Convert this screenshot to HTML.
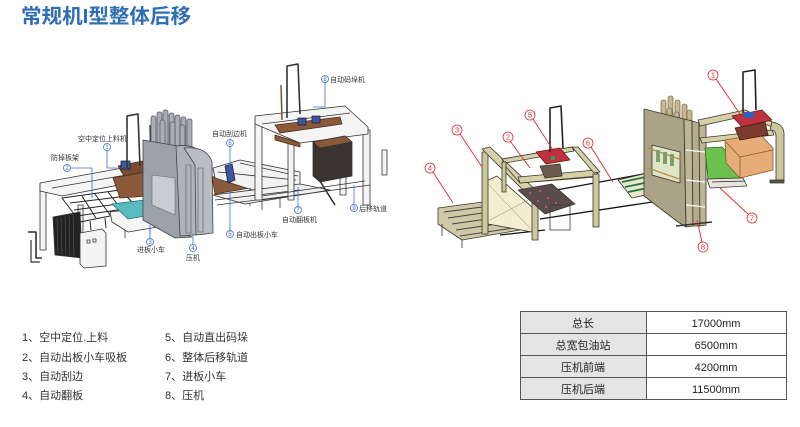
<!DOCTYPE html>
<html><head><meta charset="utf-8"><style>
html,body{margin:0;padding:0;background:#fff;}
body{width:800px;height:427px;overflow:hidden;position:relative;font-family:"Liberation Sans","Noto Sans CJK SC",sans-serif;}
svg{position:absolute;left:0;top:0;}
.lbl{font-family:"Liberation Sans","Noto Sans CJK SC",sans-serif;font-size:7px;fill:#333;}
.num{font-family:"Liberation Sans",sans-serif;font-size:6px;text-anchor:middle;}
.list{font-family:"Liberation Sans","Noto Sans CJK SC",sans-serif;font-size:11px;fill:#333;}
.tb{font-family:"Liberation Sans","Noto Sans CJK SC",sans-serif;font-size:11px;fill:#222;text-anchor:middle;}
</style></head><body>
<svg width="800" height="427" viewBox="0 0 800 427" xmlns="http://www.w3.org/2000/svg">
<!-- Title -->
<text x="21" y="23" textLength="170" lengthAdjust="spacingAndGlyphs" style="font-family:'Liberation Sans','Noto Sans CJK SC',sans-serif;font-size:20px;font-weight:bold;fill:#2f6db4;">常规机I型整体后移</text>

<!-- ============ LEFT DIAGRAM ============ -->
<g stroke="#333" stroke-width="0.8" stroke-linejoin="round">
 <!-- left gantry posts -->
 <rect x="40" y="185" width="6" height="65" fill="#f4f4f4"/>
 <rect x="78" y="205" width="5" height="48" fill="#f4f4f4"/>
 <polyline points="28,232 36,232 36,258 42,258" fill="none" stroke-width="1.6"/>
 <polyline points="31,240 31,262 40,262" fill="none" stroke-width="1.2"/>
 <!-- top white frame -->
 <polygon points="40,183 150,163 165,168 165,176 62,196 40,191" fill="#f5f5f5"/>
 <line x1="52" y1="188" x2="160" y2="169"/>
 <!-- black cabinet -->
 <polygon points="53,217 80,212 82,258 55,255" fill="#222"/>
 <g stroke="#666" stroke-width="0.5"><line x1="57" y1="218" x2="58" y2="254"/><line x1="61" y1="217" x2="62" y2="255"/><line x1="65" y1="216" x2="66" y2="255"/><line x1="69" y1="215" x2="70" y2="256"/><line x1="73" y1="214" x2="74" y2="256"/></g>
 <!-- white cabinet -->
 <polygon points="80,233 102,229 106,233 106,266 84,268 80,264" fill="#f3f3f3"/>
 <rect x="87" y="240" width="3" height="3" fill="#fff"/>
 <rect x="93" y="239" width="3" height="3" fill="#fff"/>
 <!-- fall-proof grid -->
 <g fill="none" stroke="#222" stroke-width="1">
  <polygon points="62,198 120,190 140,210 80,222"/>
  <line x1="70" y1="203" x2="127" y2="196"/><line x1="74" y1="210" x2="133" y2="202"/><line x1="77" y1="216" x2="137" y2="207"/>
  <line x1="82" y1="196" x2="96" y2="218"/><line x1="95" y1="194" x2="110" y2="215"/><line x1="108" y1="192" x2="124" y2="213"/>
  <line x1="90" y1="221" x2="91" y2="230"/><line x1="105" y1="218" x2="106" y2="228"/>
 </g>
 <!-- tray below teal -->
 <polygon points="110,212 168,205 180,217 176,224 128,232 112,222" fill="#f6f6f6"/>
 <line x1="125" y1="230" x2="125" y2="238"/><line x1="150" y1="227" x2="150" y2="234"/><line x1="172" y1="222" x2="172" y2="230"/>
 <!-- teal plate -->
 <polygon points="112,204 161,198 174,211 128,219" fill="#58bcc0" stroke="#2e6f73"/>
 <!-- brown loader -->
 <polygon points="113,178 152,170 160,180 148,196 120,198" fill="#8a5a3a" stroke="#4a2e1e"/>
 <polygon points="118,166 148,160 155,170 124,176" fill="#7a4c30" stroke="#4a2e1e"/>
 <rect x="121" y="161" width="9" height="8" fill="#3d56a0" stroke="#223"/>
 <!-- tall loader frame -->
 <polyline points="127,168 127,116 138,114 140,166" fill="none" stroke-width="1.6"/>
 <line x1="150" y1="125" x2="151" y2="170" stroke-width="1.4"/>
 <!-- press cylinders -->
 <g fill="#a9aeb6" stroke="#555" stroke-width="0.7">
  <rect x="151" y="116" width="5" height="34" rx="2"/>
  <rect x="157" y="112" width="5" height="40" rx="2"/>
  <rect x="163" y="110" width="5" height="40" rx="2"/>
  <rect x="169" y="113" width="5" height="38" rx="2"/>
  <rect x="175" y="115" width="5" height="36" rx="2"/>
  <rect x="181" y="117" width="5" height="35" rx="2"/>
  <rect x="187" y="119" width="5" height="33" rx="2"/>
  <rect x="160" y="120" width="5" height="38" rx="2"/>
  <rect x="170" y="122" width="5" height="36" rx="2"/>
  <rect x="180" y="125" width="5" height="33" rx="2"/>
 </g>
 <!-- press body -->
 <polygon points="143,140 178,146 180,232 192,237 175,238 143,220" fill="#9ca2aa" stroke="#444"/>
 <path d="M176,146 Q200,143 205,160 L206,234 L180,236 Z" fill="#aeb3bb" stroke="#444"/>
 <path d="M184,148 Q207,146 212,162 L213,233 L196,235 L195,165 Z" fill="#b8bdc4" stroke="#444"/>
 <rect x="186" y="165" width="5" height="68" fill="none" stroke="#555" stroke-width="0.6"/>
 <rect x="198" y="168" width="5" height="64" fill="none" stroke="#555" stroke-width="0.6"/>
 <polygon points="152,175 175,178 175,215 152,205" fill="#c9ccd1" stroke="#666" stroke-width="0.6"/>
 <!-- middle section: scraper / out car / flip -->
 <polygon points="212,177 245,173 250,188 215,194" fill="#8a5a3a" stroke="#4a2e1e"/>
 <polygon points="213,168 240,160 300,172 300,186 262,193 215,178" fill="#f2f2f2"/>
 <line x1="218" y1="172" x2="296" y2="180"/><line x1="240" y1="163" x2="298" y2="176"/>
 <polygon points="225,166 232,164 235,180 228,183" fill="#3d56a0" stroke="#223"/>
 <line x1="250" y1="188" x2="250" y2="206"/><line x1="262" y1="192" x2="262" y2="210"/><line x1="280" y1="189" x2="280" y2="208"/>
 <polygon points="213,195 300,184 330,190 245,204" fill="#f0f0f0"/>
 <line x1="215" y1="200" x2="300" y2="190"/><line x1="217" y1="205" x2="305" y2="194"/>
 <!-- right gantry -->
 <rect x="255" y="120" width="7" height="80" fill="#f4f4f4"/>
 <rect x="288" y="135" width="6" height="65" fill="#f4f4f4"/>
 <rect x="363" y="130" width="7" height="75" fill="#f4f4f4"/>
 <rect x="340" y="135" width="6" height="60" fill="#f4f4f4"/>
 <polygon points="255,116 345,106 368,127 368,134 300,143 255,124" fill="#f5f5f5"/>
 <line x1="262" y1="124" x2="350" y2="113"/>
 <polygon points="275,125 340,117 342,124 280,133" fill="#8a5a3a" stroke="#4a2e1e"/>
 <rect x="298" y="118" width="8" height="7" fill="#3d56a0" stroke="#223"/>
 <rect x="312" y="116" width="8" height="7" fill="#3d56a0" stroke="#223"/>
 <polyline points="287,118 287,66 298,64 300,114" fill="none" stroke-width="1.6"/>
 <line x1="281" y1="85" x2="282" y2="120" stroke-width="1.4" stroke="#6b4a30"/>
 <polygon points="275,135 300,143 300,147 275,140" fill="#8a5a3a" stroke="#4a2e1e"/>
 <!-- stack box -->
 <polygon points="313,142 345,136 352,142 352,176 320,182 313,176" fill="#3a3430"/>
 <polygon points="313,142 345,136 352,142 320,148" fill="#8a5a3a"/>
 <line x1="318" y1="178" x2="335" y2="205" stroke-width="1.6"/>
 <rect x="382" y="150" width="5" height="25" fill="#f4f4f4"/>
 <line x1="262" y1="200" x2="370" y2="185"/>
 <line x1="262" y1="196" x2="365" y2="181"/>
</g>

<!-- left labels -->
<g fill="none" stroke="#3b6fc9" stroke-width="0.8">
 <circle cx="325" cy="79" r="3.5"/><polyline points="325,82.5 325,107 313,107"/>
 <circle cx="107" cy="147" r="3.5"/><polyline points="107,150.5 107,168 117,168"/>
 <circle cx="67" cy="168" r="3.5"/><polyline points="70.5,168 92,168 92,198"/>
 <circle cx="230" cy="143" r="3.5"/><polyline points="230,146.5 230,167"/>
 <circle cx="298" cy="210" r="3.5"/><polyline points="298,206.5 298,187"/>
 <circle cx="354" cy="208" r="3.5"/><polyline points="354,204.5 354,185"/>
 <circle cx="230" cy="234" r="3.5"/><polyline points="230,230.5 230,188"/>
 <circle cx="150" cy="242" r="3.5"/><polyline points="150,238.5 150,225"/>
 <circle cx="193" cy="248" r="3.5"/><polyline points="193,244.5 193,235"/>
</g>
<g>
 <text x="325" y="81.2" class="num" fill="#3b6fc9">8</text>
 <text x="107" y="149.2" class="num" fill="#3b6fc9">1</text>
 <text x="67" y="170.2" class="num" fill="#3b6fc9">2</text>
 <text x="230" y="145.2" class="num" fill="#3b6fc9">6</text>
 <text x="298" y="212.2" class="num" fill="#3b6fc9">7</text>
 <text x="354" y="210.2" class="num" fill="#3b6fc9">9</text>
 <text x="230" y="236.2" class="num" fill="#3b6fc9">5</text>
 <text x="150" y="244.2" class="num" fill="#3b6fc9">3</text>
 <text x="193" y="250.2" class="num" fill="#3b6fc9">4</text>
</g>
<text x="330" y="82" class="lbl">自动码垛机</text>
<text x="78" y="141" class="lbl">空中定位上料机</text>
<text x="51" y="160" class="lbl">防掉板架</text>
<text x="212" y="136" class="lbl">自动刮边机</text>
<text x="282" y="222" class="lbl">自动翻板机</text>
<text x="359" y="211" class="lbl">后移轨道</text>
<text x="236" y="237" class="lbl">自动出板小车</text>
<text x="137" y="252" class="lbl">进板小车</text>
<text x="186" y="260" class="lbl">压机</text>

<!-- ============ RIGHT DIAGRAM ============ -->
<g stroke="#3a3628" stroke-width="0.8" stroke-linejoin="round">
 <!-- rails -->
 <line x1="540" y1="193" x2="660" y2="171" stroke="#111" stroke-width="1.3"/>
 <line x1="540" y1="219" x2="672" y2="199" stroke="#111" stroke-width="1.3"/>
 <line x1="500" y1="235" x2="545" y2="230" stroke="#111" stroke-width="1.3"/>
 <!-- conveyor 4 -->
 <polygon points="438,208 498,200 522,215 520,230 462,240 438,224" fill="#cfc9a8"/>
 <g stroke="#444" stroke-width="1"><line x1="444" y1="212" x2="505" y2="204"/><line x1="448" y1="218" x2="510" y2="209"/><line x1="452" y1="224" x2="515" y2="215"/><line x1="456" y1="230" x2="518" y2="221"/><line x1="460" y1="236" x2="520" y2="227"/></g>
 <line x1="442" y1="224" x2="442" y2="236"/><line x1="462" y1="240" x2="462" y2="248"/>
 <!-- front gantry 3 with glazing -->
 <polygon points="484,182 497,176 533,208 532,232 488,224" fill="#f3edd2"/>
 <line x1="488" y1="184" x2="530" y2="228" stroke="#8a845c" stroke-width="0.5"/><line x1="490" y1="220" x2="528" y2="200" stroke="#8a845c" stroke-width="0.5"/>
 <rect x="482" y="152" width="6" height="82" fill="#cdc79e"/>
 <polygon points="482,149 490,147 540,194 533,200" fill="#d6d0a8"/>
 <rect x="532" y="198" width="6" height="42" fill="#cdc79e"/>
 <!-- pink-dot table -->
 <polygon points="518,190 552,184 575,204 545,214" fill="#5b4c4c"/>
 <g fill="#d06090" stroke="none"><circle cx="530" cy="193" r="1"/><circle cx="540" cy="191" r="1"/><circle cx="548" cy="198" r="1"/><circle cx="538" cy="201" r="1"/><circle cx="556" cy="203" r="1"/><circle cx="546" cy="207" r="1"/></g>
 <rect x="550" y="205" width="20" height="25" fill="none"/>
 <!-- rear gantry -->
 <polygon points="502,159 572,147 598,172 596,177 520,183 506,167" fill="none" stroke="#3a3628"/>
 <polygon points="502,159 572,147 574,151 505,163" fill="#d6d0a8"/>
 <polygon points="518,177 596,170 598,176 520,183" fill="#d6d0a8"/>
 <polygon points="572,147 578,147 600,172 594,173" fill="#d6d0a8"/>
 <rect x="593" y="174" width="6" height="53" fill="#cdc79e"/>
 <rect x="502" y="162" width="4" height="30" fill="#cdc79e"/>
 <!-- red machinery 5 -->
 <polygon points="536,152 560,148 570,160 546,164" fill="#c03040" stroke="#601818"/>
 <rect x="551" y="156" width="4" height="4" fill="#30a050" stroke="none"/>
 <polyline points="550,152 550,108 561,106 563,148" fill="none" stroke="#222" stroke-width="1.6"/>
 <polygon points="540,166 560,164 562,176 545,178" fill="#6b5a50"/>
 <!-- green slats 6 -->
 <polygon points="618,180 652,172 668,190 632,198" fill="#eae6d0"/>
 <g stroke="#1f7a3a" stroke-width="1.8"><line x1="622" y1="182" x2="655" y2="175"/><line x1="625" y1="187" x2="659" y2="180"/><line x1="628" y1="192" x2="663" y2="185"/></g>
 <!-- press cylinders -->
 <g fill="#c8b88c" stroke="#5a5038" stroke-width="0.6">
  <rect x="661" y="100" width="5" height="32" rx="2"/>
  <rect x="668" y="96" width="5" height="34" rx="2"/>
  <rect x="675" y="100" width="5" height="34" rx="2"/>
  <rect x="682" y="104" width="5" height="32" rx="2"/>
  <rect x="667" y="108" width="5" height="30" rx="2"/>
  <rect x="674" y="112" width="5" height="30" rx="2"/>
  <rect x="687" y="110" width="5" height="30" rx="2"/>
 </g>
 <!-- press plate -->
 <polygon points="644,109 684,119 686,227 678,222 644,196" fill="#aaa388"/>
 <polygon points="652,145 680,152 680,183 652,175" fill="#dfe7c8"/>
 <g stroke="#c08a3a" stroke-width="1.4"><line x1="648" y1="148" x2="682" y2="160"/><line x1="648" y1="168" x2="682" y2="180"/></g>
 <g fill="#7fa06c" stroke="none"><rect x="656" y="150" width="4" height="12"/><rect x="663" y="152" width="4" height="12"/><rect x="670" y="154" width="4" height="12"/></g>
 <polygon points="684,119 692,121 693,226 686,227" fill="#bdb596"/>
 <polygon points="692,121 699,123 700,226 693,226" fill="#b4ac8e"/>
 <polygon points="699,123 706,125 706,225 700,226" fill="#bdb596"/>
 <g stroke="#fff" stroke-width="1.2"><line x1="686" y1="150" x2="705" y2="152"/><line x1="686" y1="180" x2="705" y2="182"/><line x1="686" y1="205" x2="705" y2="207"/></g>
 <polyline points="676,226 712,222" stroke="#333" stroke-width="1.4" fill="none"/>
 <!-- upper right gantry -->
 <polygon points="698,120 745,110 772,122 772,127 745,116 700,126" fill="#d6d0a8"/>
 <polygon points="700,138 772,130 774,135 702,143" fill="#d6d0a8"/>
 <path d="M772,122 Q784,124 784,134 L784,180 L776,180 L776,136 Q776,130 770,130 Z" fill="#cdc79e"/>
 <rect x="770" y="180" width="14" height="3" fill="#555"/>
 <!-- green table 7 -->
 <polygon points="705,148 722,147 745,170 742,178 708,179" fill="#6cc04e" stroke="#2a6a20"/>
 <polygon points="707,179 743,178 747,186 710,188" fill="#e8e6e0"/>
 <line x1="712" y1="182" x2="745" y2="181" stroke="#222"/>
 <!-- orange box -->
 <polygon points="725,140 760,134 773,148 773,170 740,178 726,163" fill="#e6ad78" stroke="#8a5a30"/>
 <line x1="726" y1="142" x2="740" y2="157" stroke="#8a5a30"/><line x1="740" y1="157" x2="773" y2="150" stroke="#8a5a30"/><line x1="740" y1="157" x2="740" y2="178" stroke="#8a5a30"/>
 <!-- red machinery 1 -->
 <polygon points="732,116 762,110 772,120 742,127" fill="#c03040" stroke="#601818"/>
 <rect x="744" y="112" width="10" height="6" fill="#3060c0" stroke="none"/>
 <polygon points="735,128 765,122 768,135 740,140" fill="#7a3a30" stroke="#401a10"/>
 <polyline points="743,113 743,72 755,70 756,110" fill="none" stroke="#222" stroke-width="1.6"/>
</g>
<!-- red labels -->
<g stroke="#e02828" stroke-width="0.9" fill="none">
 <line x1="716" y1="79" x2="740" y2="114"/>
 <line x1="533" y1="119" x2="553" y2="150"/>
 <line x1="460" y1="134" x2="482" y2="167"/>
 <line x1="510" y1="141" x2="530" y2="168"/>
 <line x1="591" y1="147" x2="613" y2="182"/>
 <line x1="433" y1="172" x2="453" y2="203"/>
 <line x1="748" y1="214" x2="720" y2="188"/>
 <line x1="702" y1="242" x2="697" y2="220"/>
</g>
<g stroke="#e02828" stroke-width="0.8" fill="#fff">
 <circle cx="713" cy="75" r="5"/><circle cx="530" cy="115" r="5"/><circle cx="457" cy="130" r="5"/><circle cx="508" cy="137" r="5"/>
 <circle cx="588" cy="143" r="5"/><circle cx="430" cy="168" r="5"/><circle cx="752" cy="218" r="5"/><circle cx="703" cy="247" r="5"/>
</g>
<g fill="#e02828" style="font-family:'Liberation Sans',sans-serif;font-size:7.5px;text-anchor:middle;">
 <text x="713" y="77.7">1</text><text x="530" y="117.7">5</text><text x="457" y="132.7">3</text><text x="508" y="139.7">2</text>
 <text x="588" y="145.7">6</text><text x="430" y="170.7">4</text><text x="752" y="220.7">7</text><text x="703" y="249.7">8</text>
</g>

<!-- list -->
<text x="22" y="341" class="list">1、空中定位.上料</text>
<text x="22" y="361" class="list">2、自动出板小车吸板</text>
<text x="22" y="380" class="list">3、自动刮边</text>
<text x="22" y="399" class="list">4、自动翻板</text>
<text x="165" y="341" class="list">5、自动直出码垛</text>
<text x="165" y="361" class="list">6、整体后移轨道</text>
<text x="165" y="380" class="list">7、进板小车</text>
<text x="165" y="399" class="list">8、压机</text>

<!-- table -->
<rect x="520.5" y="311.5" width="126" height="88" fill="#e4e4e4"/>
<rect x="646.5" y="311.5" width="140" height="88" fill="#fff"/>
<g stroke="#555" stroke-width="1" fill="none">
 <rect x="520.5" y="311.5" width="266" height="88"/>
 <line x1="646.5" y1="311.5" x2="646.5" y2="399.5"/>
 <line x1="520.5" y1="333.5" x2="786.5" y2="333.5"/>
 <line x1="520.5" y1="355.5" x2="786.5" y2="355.5"/>
 <line x1="520.5" y1="377.5" x2="786.5" y2="377.5"/>
</g>
<text x="583" y="327" class="tb">总长</text>
<text x="583" y="349" class="tb">总宽包油站</text>
<text x="583" y="371" class="tb">压机前端</text>
<text x="583" y="393" class="tb">压机后端</text>
<text x="716" y="327" class="tb">17000mm</text>
<text x="716" y="349" class="tb">6500mm</text>
<text x="716" y="371" class="tb">4200mm</text>
<text x="716" y="393" class="tb">11500mm</text>
</svg>
</body></html>
